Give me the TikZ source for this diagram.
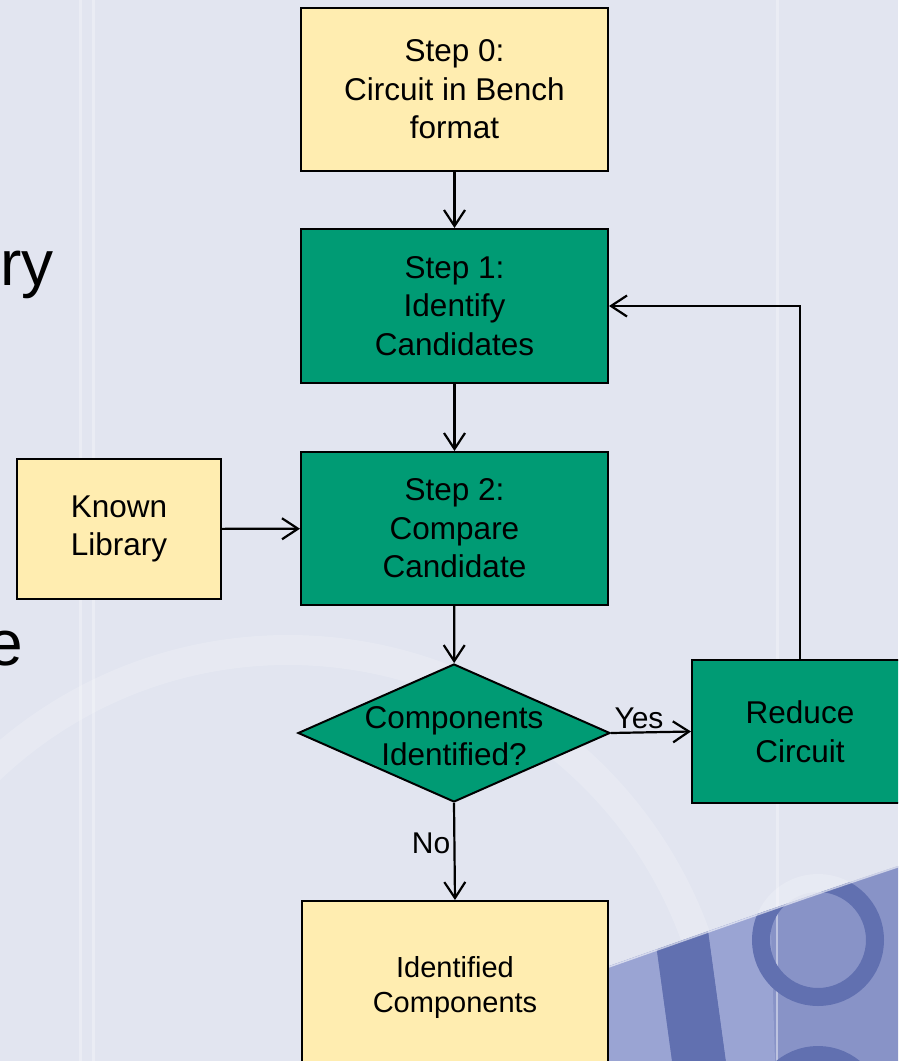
\documentclass[tikz,border=0pt]{standalone}
\usepackage{fontspec}
\setmainfont{Liberation Sans}
\usetikzlibrary{shapes.geometric,arrows.meta}

\definecolor{bgcol}{HTML}{E2E5F0}
\definecolor{boxgreen}{HTML}{009B74}
\definecolor{boxyellow}{HTML}{FFEDB0}
\definecolor{wave}{HTML}{8893C7}
\definecolor{wavedark}{HTML}{6170B0}
\definecolor{wavelight}{HTML}{9AA4D3}

\begin{document}
\begin{tikzpicture}[x=1pt,y=-1pt,
  box/.style={draw=black, line width=2pt, rectangle, inner sep=0pt,
    align=center, font=\fontsize{31.5}{38.5}\selectfont},
  greenbox/.style={box, fill=boxgreen},
  yellowbox/.style={box, fill=boxyellow},
  decision/.style={draw=black, line width=2pt, diamond, inner sep=0pt,
    fill=boxgreen, minimum width=312pt, minimum height=138pt},
  boxtext/.style={align=center, inner sep=0pt, font=\fontsize{31.5}{37}\selectfont},
  arr/.style={line width=2.2pt, -{Straight Barb[length=16pt,width=21pt]}},
  lbl/.style={font=\fontsize{30}{36}\selectfont, inner sep=3pt},
  slidetext/.style={font=\fontsize{64}{70}\selectfont, inner sep=0pt}
]
\useasboundingbox (0,0) rectangle (898,1061);
\clip (0,0) rectangle (898,1061);

% slide background
\fill[bgcol] (0,0) rectangle (898,1061);
\foreach \sx in {80,93,777}
  \draw[white, opacity=0.3, line width=3pt] (\sx,0) -- (\sx,1061);
\draw[white, opacity=0.18, line width=30pt] (288,1083) circle (433);
\draw[white, opacity=0.2, line width=18pt] (818,940) circle (57);

% blue wave in the lower right corner
\path[fill=wave] (330,1061) .. controls (520,1000) and (720,925) .. (898,866)
  -- (898,1061) -- cycle;
\begin{scope}
  \clip (330,1061) .. controls (520,1000) and (720,925) .. (898,866)
    -- (898,1061) -- cycle;
  \fill[wavelight] (560,1061) -- (560,900) -- (650,900) -- (672,1061) -- cycle;
  \fill[wavedark] (650,900) -- (704,900) -- (726,1061) -- (672,1061) -- cycle;
  \fill[wavelight] (704,900) -- (770,900) -- (775,1061) -- (726,1061) -- cycle;
  \draw[white, opacity=0.45, line width=2pt] (777,900) -- (777,1061);
  \draw[wavedark, line width=18pt] (818,940) circle (57);
  \draw[wavedark, line width=18pt] (818,1112) circle (57);
  \draw[white, opacity=0.6, line width=3pt]
    (330,1061) .. controls (520,1000) and (720,925) .. (898,866);
\end{scope}

% cut-off slide text on the left
\node[slidetext, anchor=base east] (t1) at (54,285) {ry};
\node[slidetext, anchor=base east] (t2) at (23,665) {e};

% flowchart nodes
\node[yellowbox, minimum width=307pt, minimum height=163pt] (s0) at (454.5,89.5)
  {Step 0:\\Circuit in Bench\\format};
\node[greenbox, minimum width=307pt, minimum height=154pt] (s1) at (454.5,306)
  {Step 1:\\Identify\\Candidates};
\node[greenbox, minimum width=307pt, minimum height=153pt] (s2) at (454.5,528.5)
  {Step 2:\\Compare\\Candidate};
\node[yellowbox, minimum width=204pt, minimum height=140pt] (lib) at (119,529)
  {Known\\Library};
\node[decision] (dec) at (454,733) {};
\node[boxtext, yshift=-3pt] (dectext) at (dec.center) {Components\\Identified?};
\node[greenbox, minimum width=216pt, minimum height=143pt] (red) at (800,731.5)
  {Reduce\\Circuit};
\node[yellowbox, minimum width=306pt, minimum height=172pt,
  font=\fontsize{29}{35}\selectfont] (idc) at (455,987)
  {Identified\\Components};

% connectors
\draw[arr] (s0) -- (s1);
\draw[arr] (s1) -- (s2);
\draw[arr] (lib) -- (s2);
\draw[arr] (s2) -- (dec);
\draw[arr] (dec.east) -- node[lbl, above, pos=0.35] {Yes} (red.west);
\draw[arr] (dec.south) -- node[lbl, left, pos=0.42] {No} (idc.north);
\draw[arr] (red.north) |- (s1.east);
\end{tikzpicture}
\end{document}
